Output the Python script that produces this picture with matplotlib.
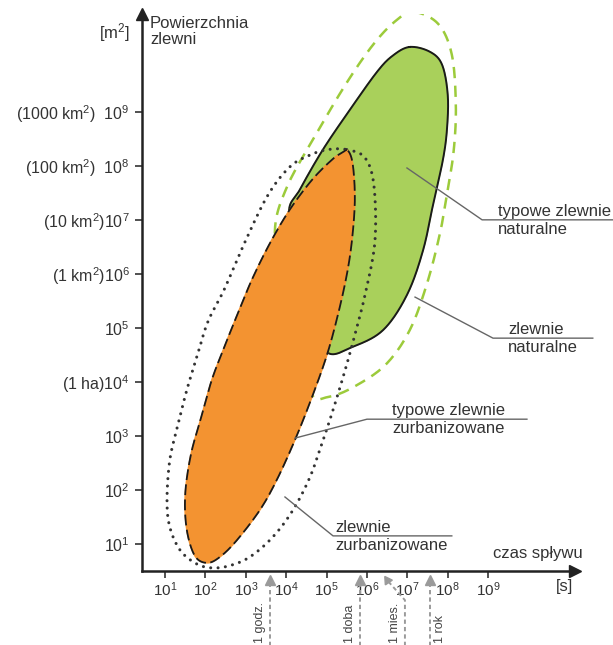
'''Czas spływu a powierzchnia zlewni - zlewnie naturalne i zurbanizowane.'''

import numpy as np
import matplotlib
matplotlib.use('Agg')
import matplotlib.pyplot as plt

plt.rcParams['font.family'] = ['Liberation Sans', 'DejaVu Sans']
plt.rcParams['mathtext.fontset'] = 'custom'
plt.rcParams['mathtext.rm'] = 'Liberation Sans'
plt.rcParams['mathtext.it'] = 'Liberation Sans:italic'
plt.rcParams['mathtext.bf'] = 'Liberation Sans:bold'

# Outlines of the regions (log10 of time [s], log10 of area [m2]).
typowe_nat_t = [7.06, 7.56, 7.86, 8.00, 7.98, 7.88, 7.66, 7.39, 6.99, 6.40, 5.65, 5.03,
                4.69, 4.34, 4.07, 4.34, 4.91, 5.58, 6.25, 6.64]
typowe_nat_a = [10.20, 10.11, 9.87, 9.31, 8.67, 8.11, 7.37, 6.44, 5.61, 4.96, 4.65, 4.54,
                5.15, 6.17, 7.13, 7.56, 8.30, 9.04, 9.74, 10.04]

nat_t = [7.14, 7.76, 8.10, 8.20, 8.15, 8.00, 7.81, 7.49, 7.06, 6.45, 5.63, 5.03, 4.64,
         4.29, 3.95, 3.72, 4.02, 4.76, 5.50, 6.15, 6.69]
nat_a = [10.85, 10.63, 10.06, 9.13, 8.30, 7.56, 6.76, 5.83, 4.96, 4.31, 3.89, 3.72, 3.76,
         4.59, 5.70, 6.78, 7.61, 8.61, 9.54, 10.24, 10.67]

typowe_urb_t = [5.53, 5.65, 5.70, 5.63, 5.50, 5.28, 5.01, 4.64, 4.22, 3.77, 3.35, 2.78,
                2.36, 2.04, 1.74, 1.54, 1.50, 1.64, 1.89, 2.16, 2.44, 2.76, 3.15, 3.60,
                4.09, 4.64, 5.13, 5.38]
typowe_urb_a = [8.28, 8.02, 7.37, 6.63, 5.98, 5.24, 4.50, 3.72, 2.93, 2.19, 1.63, 1.07,
                0.76, 0.65, 0.78, 1.26, 1.91, 2.65, 3.33, 4.04, 4.59, 5.19, 5.89, 6.57,
                7.19, 7.74, 8.11, 8.24]

urb_t = [5.50, 5.95, 6.17, 6.20, 5.98, 5.70, 5.46, 5.16, 4.89, 4.59, 4.17, 3.67, 3.10,
         2.56, 2.11, 1.74, 1.37, 1.12, 1.05, 1.12, 1.32, 1.54, 1.79, 2.06, 2.46, 2.98,
         3.55, 4.09, 4.59, 5.03]
urb_a = [8.30, 8.15, 7.65, 6.63, 5.70, 4.87, 4.22, 3.48, 2.87, 2.24, 1.63, 1.13, 0.76,
         0.59, 0.56, 0.65, 0.89, 1.31, 1.81, 2.56, 3.20, 3.85, 4.46, 5.11, 5.70, 6.59,
         7.46, 7.98, 8.20, 8.30]

# Axis ticks.
tick_exp = [1, 2, 3, 4, 5, 6, 7, 8, 9]
area_names = {4: '(1 ha)', 6: '(1 km$^2$)', 7: '(10 km$^2$)',
              8: '(100 km$^2$)  ', 9: '(1000 km$^2$)  '}

# Reference times (log10 s) marked under the time axis.
czas_labels = ['1 godz.', '1 doba', '1 mies.', '1 rok']
czas_exp = [3.60, 5.83, 6.50, 7.56]

fig = plt.figure(figsize=(6.13, 6.45), dpi=100)
ax = fig.add_axes([142 / 613, 74 / 645, 433 / 613, 557 / 645])
ax.set_xscale('log')
ax.set_yscale('log')
ax.set_xlim(10 ** 0.431, 10 ** 11.15)
ax.set_ylim(10 ** 0.5, 10 ** 10.81)


def smooth_closed(xs, ys, n=30):
    # Closed Catmull-Rom curve through the outline points.
    p = np.column_stack([xs, ys])
    pm1 = np.roll(p, 1, axis=0)
    p1 = np.roll(p, -1, axis=0)
    p2 = np.roll(p, -2, axis=0)
    t = np.linspace(0, 1, n, endpoint=False)[:, None, None]
    c = 0.5 * (2 * p + (-pm1 + p1) * t + (2 * pm1 - 5 * p + 4 * p1 - p2) * t ** 2
               + (-pm1 + 3 * p - 3 * p1 + p2) * t ** 3)
    c = c.transpose(1, 0, 2).reshape(-1, 2)
    c = np.vstack([c, c[:1]])
    return 10 ** c[:, 0], 10 ** c[:, 1]


# Natural catchments (green dashed outline).
x, y = smooth_closed(nat_t, nat_a)
ax.plot(x, y, color='#9ccb3b', lw=1.8, ls=(0, (4.5, 3.0)), zorder=1)

# Typical natural catchments.
x, y = smooth_closed(typowe_nat_t, typowe_nat_a)
ax.fill(x, y, color='#a9d05b', zorder=2)
ax.plot(x, y, color='#1a1a1a', lw=1.4, zorder=2)

# Urbanised catchments (dotted outline).
x, y = smooth_closed(urb_t, urb_a)
ax.plot(x, y, color='#333333', lw=2.2, ls=(0, (0.01, 2.4)),
        dash_capstyle='round', zorder=3)

# Typical urbanised catchments.
x, y = smooth_closed(typowe_urb_t, typowe_urb_a)
ax.fill(x, y, color='#f39331', zorder=4)
ax.plot(x, y, color='#1a1a1a', lw=1.3, ls=(0, (6, 2.4)), zorder=5)

# Axes, ticks and arrows.
for s in ['top', 'right']:
    ax.spines[s].set_visible(False)
for s in ['left', 'bottom']:
    ax.spines[s].set_linewidth(1.8)
    ax.spines[s].set_color('#222222')
ax.plot(1, 0, '>', color='#222222', ms=8, transform=ax.transAxes, clip_on=False)
ax.plot(0, 1, '^', color='#222222', ms=8, transform=ax.transAxes, clip_on=False)

ticks = [10.0 ** e for e in tick_exp]
ax.set_xticks(ticks)
ax.set_xticklabels([f'$10^{{{e}}}$' for e in tick_exp])
ax.set_yticks(ticks)
ax.set_yticklabels([area_names.get(e, '') + f'$10^{{{e}}}$' for e in tick_exp])
ax.minorticks_off()
ax.tick_params(direction='out', length=5, width=1.2, color='#333333',
               labelcolor='#333333')
ax.tick_params(axis='x', pad=2, labelsize=11)
ax.tick_params(axis='y', pad=4, labelsize=11.5)

txt = dict(color='#333333', fontsize=12, clip_on=False)
ax.text(10 ** -0.26, 10 ** 10.46, '[m$^2$]', ha='center', va='center', **txt)
ax.text(10 ** 0.63, 10 ** 10.77, 'Powierzchnia\nzlewni', ha='left', va='top',
        linespacing=1.1, **txt)
ax.text(10 ** 11.35, 10 ** 0.83, 'czas spływu', ha='right', va='center', **txt)
ax.text(10 ** 10.9, 10 ** 0.22, '[s]', ha='center', va='center', **txt)

# Leader lines with labels: (start, elbow, end of shelf, text x, upper, lower).
leaders = [
    ((6.99, 7.96), (8.85, 7.00), 12.09, 9.24, 'typowe zlewnie', 'naturalne'),
    ((7.19, 5.57), (9.12, 4.81), 11.59, 9.49, 'zlewnie', 'naturalne'),
    ((4.22, 2.96), (6.00, 3.31), 9.96, 6.62, 'typowe zlewnie', 'zurbanizowane'),
    ((3.97, 1.87), (5.16, 1.15), 8.10, 5.21, 'zlewnie', 'zurbanizowane'),
]
for (sx, sy), (ex, ey), endx, tx, top, bottom in leaders:
    ax.plot([10 ** sx, 10 ** ex, 10 ** endx], [10 ** sy, 10 ** ey, 10 ** ey],
            color='#666666', lw=1.0, clip_on=False, zorder=6)
    ax.annotate(top, (10 ** tx, 10 ** ey), xytext=(0, 0.5), textcoords='offset points',
                ha='left', va='bottom', annotation_clip=False, color='#333333',
                fontsize=12)
    ax.annotate(bottom, (10 ** tx, 10 ** ey), xytext=(0, -1.5), textcoords='offset points',
                ha='left', va='top', annotation_clip=False, color='#333333',
                fontsize=12)

# Reference time arrows under the axis.
y_tip, y_bend, y_low = 10 ** 0.33, 10 ** -0.04, 10 ** -0.9
for lab, e in zip(czas_labels, czas_exp):
    if lab == '1 mies.':
        xb = 10 ** 6.94
        xs, ys = [xb, xb, 10 ** e], [y_low, y_bend, y_tip]
        mk = (3, 0, 34)
        lx, off = xb, -7
    else:
        xs, ys = [10 ** e, 10 ** e], [y_low, y_tip]
        mk = '^'
        lx, off = 10 ** e, (7 if lab == '1 rok' else -7)
    ax.plot(xs, ys, color='#9a9a9a', lw=1.4, ls=(0, (2.2, 1.6)), clip_on=False)
    ax.plot([10 ** e], [y_tip], marker=mk, color='#9a9a9a', ms=7, clip_on=False)
    ax.annotate(lab, (lx, 10 ** -0.83), xytext=(off, 0), textcoords='offset points',
                rotation=90, ha='center', va='bottom', annotation_clip=False,
                color='#444444', fontsize=9)

plt.savefig('out.png', dpi=100)
